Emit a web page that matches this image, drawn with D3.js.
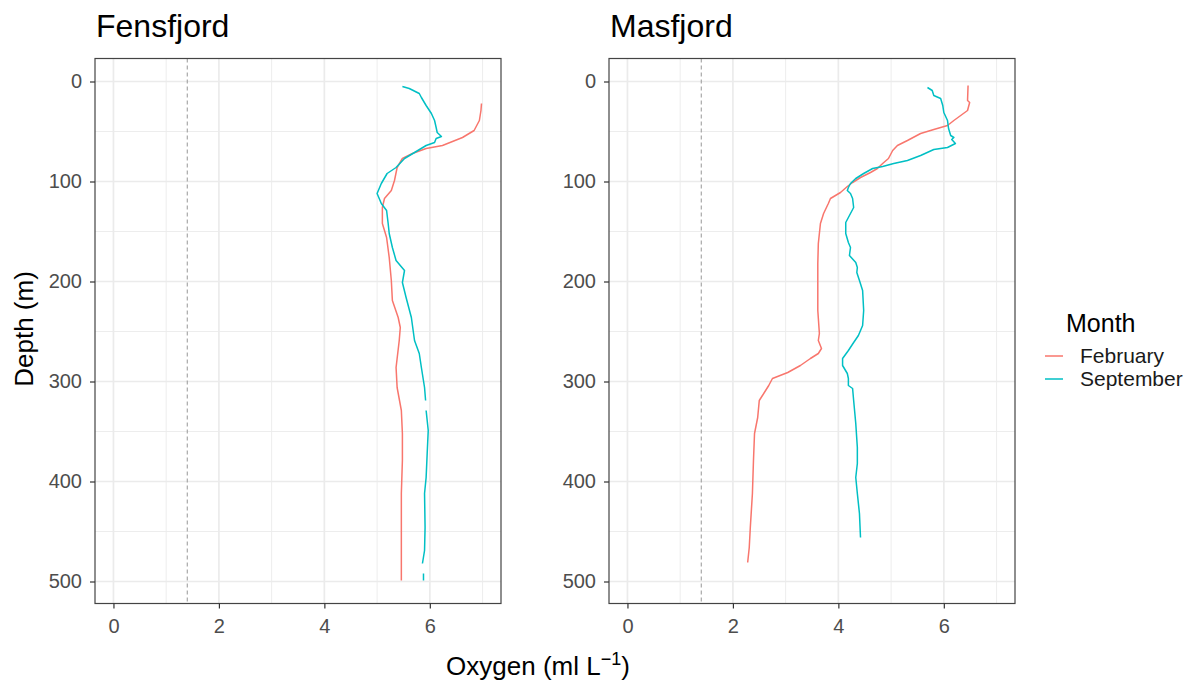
<!DOCTYPE html>
<meta charset="utf-8">
<style>
body { margin: 0; background: #fff; }
svg { font-family: "Liberation Sans", Arial, Helvetica, sans-serif; }
.tick text { fill: #4d4d4d; font-size: 20px; }
.tick line { stroke: #333; stroke-width: 1.2; }
.domain { display: none; }
</style>
<body>
<script src="https://d3js.org/d3.v7.min.js"></script>
<script>

// oxygen profiles (depth in m, oxygen in ml/L)
var fensFebDepth = [22,29,39,49,56,64,67,72,77,86,99,109,117,126,142,156,176,199,219,236,246,259,286,306,329,352,379,412,446,479,499];
var fensFebO2 = [6.98,6.97,6.94,6.84,6.62,6.24,5.93,5.67,5.48,5.38,5.33,5.27,5.14,5.10,5.10,5.18,5.23,5.27,5.29,5.40,5.44,5.42,5.36,5.38,5.46,5.48,5.48,5.46,5.46,5.46,5.46];

var fensSepDepth = [5,7,12,16,24,32,39,46,51,55,57,61,64,71,77,86,92,102,112,122,129,142,152,166,179,189,201,216,236,259,272,286,306,319,324,329,349,372,396,412,446,469,482,487,492,499];
var fensSepO2 = [5.48,5.61,5.80,5.84,5.93,6.03,6.09,6.12,6.14,6.22,6.12,6.09,5.93,5.71,5.52,5.36,5.19,5.08,5.00,5.08,5.18,5.21,5.23,5.29,5.36,5.52,5.48,5.55,5.65,5.71,5.80,5.84,5.90,5.92,null,5.93,5.97,5.95,5.93,5.90,5.91,5.90,5.86,null,5.88,5.88];

var masFebDepth = [4,19,21,29,34,39,44,48,52,59,64,69,77,82,87,91,96,101,105,111,117,122,132,142,162,182,202,229,252,259,267,272,277,284,291,297,304,314,319,336,352,379,412,446,466,481];
var masFebO2 = [6.46,6.45,6.49,6.45,6.32,6.19,6.07,5.81,5.56,5.31,5.12,5.03,4.95,4.84,4.74,4.61,4.42,4.27,4.17,4.04,3.85,3.81,3.72,3.66,3.62,3.61,3.61,3.61,3.64,3.62,3.68,3.62,3.47,3.28,3.04,2.75,2.68,2.56,2.50,2.47,2.41,2.39,2.37,2.33,2.31,2.28];

var masSepDepth = [6,9,14,17,24,31,39,47,54,56,58,62,66,68,74,79,82,85,87,92,97,102,106,109,112,117,126,132,141,152,161,166,174,181,186,191,199,209,229,244,254,261,269,277,284,292,297,304,307,319,342,366,382,396,412,432,456];
var masSepO2 = [5.69,5.78,5.81,5.94,5.98,6.00,6.07,6.09,6.13,6.19,6.15,6.22,6.07,5.81,5.56,5.31,5.05,4.84,4.65,4.48,4.33,4.23,4.19,4.17,4.23,4.27,4.29,4.23,4.14,4.14,4.19,4.23,4.21,4.33,4.36,4.35,4.40,4.46,4.48,4.46,4.38,4.29,4.19,4.08,4.08,4.17,4.19,4.19,4.27,4.29,4.33,4.36,4.36,4.33,4.36,4.40,4.42];

var months = ["February", "September"];
var colors = ["#F8766D", "#00BFC4"];
var xTicks = [0, 2, 4, 6];
var xMinor = [1, 3, 5, 7];
var yTicks = [0, 100, 200, 300, 400, 500];
var yMinor = [50, 150, 250, 350, 450];
var hypoxia = 1.4;

var panels = [
  {name: "Fensfjord", left: 95, series: [[fensFebDepth, fensFebO2], [fensSepDepth, fensSepO2]]},
  {name: "Masfjord", left: 609, series: [[masFebDepth, masFebO2], [masSepDepth, masSepO2]]}
];

var width = 1194, height = 684;
var pw = 406, pTop = 58.5, pBottom = 603.5;

var svg = d3.select("body").append("svg")
    .attr("width", width)
    .attr("height", height);

var y = d3.scaleLinear().domain([-23, 522]).range([pTop, pBottom]);

panels.forEach(function(p) {
  var x = d3.scaleLinear().domain([-0.35, 7.35]).range([p.left, p.left + pw]);
  var g = svg.append("g");

  // grid
  g.selectAll(".vmin").data(xMinor).enter().append("line")
    .attr("x1", d => x(d)).attr("x2", d => x(d))
    .attr("y1", pTop).attr("y2", pBottom)
    .attr("stroke", "#ebebeb").attr("stroke-width", 0.9);
  g.selectAll(".hmin").data(yMinor).enter().append("line")
    .attr("x1", p.left).attr("x2", p.left + pw)
    .attr("y1", d => y(d)).attr("y2", d => y(d))
    .attr("stroke", "#ebebeb").attr("stroke-width", 0.9);
  g.selectAll(".vmaj").data(xTicks).enter().append("line")
    .attr("x1", d => x(d)).attr("x2", d => x(d))
    .attr("y1", pTop).attr("y2", pBottom)
    .attr("stroke", "#ebebeb").attr("stroke-width", 1.7);
  g.selectAll(".hmaj").data(yTicks).enter().append("line")
    .attr("x1", p.left).attr("x2", p.left + pw)
    .attr("y1", d => y(d)).attr("y2", d => y(d))
    .attr("stroke", "#ebebeb").attr("stroke-width", 1.7);

  // hypoxia threshold
  g.append("line")
    .attr("x1", x(hypoxia)).attr("x2", x(hypoxia))
    .attr("y1", pTop).attr("y2", pBottom)
    .attr("stroke", "#a0a0a0").attr("stroke-width", 1.1)
    .attr("stroke-dasharray", "4,3");

  var line = d3.line()
    .defined(d => d[1] !== null)
    .x(d => x(d[1]))
    .y(d => y(d[0]));

  p.series.forEach(function(s, i) {
    var pts = s[0].map((dep, k) => [dep, s[1][k]]);
    g.append("path")
      .datum(pts)
      .attr("d", line)
      .attr("fill", "none")
      .attr("stroke", colors[i])
      .attr("stroke-width", 1.5)
      .attr("stroke-linejoin", "round");
  });

  // border
  g.append("rect")
    .attr("x", p.left).attr("y", pTop)
    .attr("width", pw).attr("height", pBottom - pTop)
    .attr("fill", "none").attr("stroke", "#444").attr("stroke-width", 1.2);

  // axes
  svg.append("g")
    .attr("transform", "translate(0," + pBottom + ")")
    .call(d3.axisBottom(x).tickValues(xTicks).tickSize(5).tickPadding(10));
  svg.append("g")
    .attr("transform", "translate(" + p.left + ",0)")
    .call(d3.axisLeft(y).tickValues(yTicks).tickSize(5).tickPadding(8));

  svg.append("text")
    .attr("x", p.left + 1).attr("y", 37)
    .attr("font-size", 32)
    .attr("fill", "#000")
    .text(p.name);
});

// axis titles
svg.append("text")
  .attr("transform", "translate(33,329) rotate(-90)")
  .attr("text-anchor", "middle")
  .attr("font-size", 26)
  .text("Depth (m)");

var xt = svg.append("text")
  .attr("x", 538).attr("y", 675)
  .attr("text-anchor", "middle")
  .attr("font-size", 26);
xt.append("tspan").text("Oxygen (ml L");
xt.append("tspan").attr("dy", -10).attr("font-size", 18).text("\u22121");
xt.append("tspan").attr("dy", 10).text(")");

// legend
var leg = svg.append("g").attr("transform", "translate(1045,0)");
leg.append("text")
  .attr("x", 21).attr("y", 332)
  .attr("font-size", 25)
  .text("Month");
months.forEach(function(m, i) {
  var yy = 356 + i * 23;
  leg.append("line")
    .attr("x1", 0).attr("x2", 18)
    .attr("y1", yy).attr("y2", yy)
    .attr("stroke", colors[i]).attr("stroke-width", 1.5);
  leg.append("text")
    .attr("x", 35).attr("y", yy + 7)
    .attr("font-size", 21)
    .attr("fill", "#1a1a1a")
    .text(m);
});

</script>
</body>
